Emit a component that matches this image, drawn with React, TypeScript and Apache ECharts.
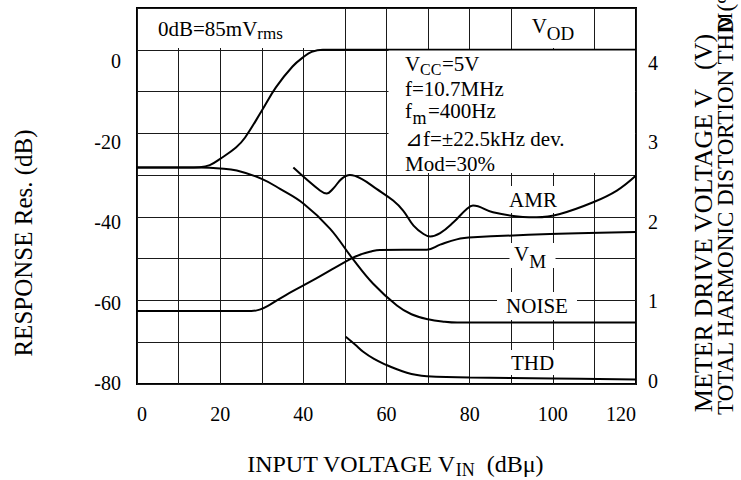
import React, { useEffect, useRef } from "react";
import * as echarts from "echarts";

// ---- data (x: input voltage dBµ) ----
const xTickLabels = [0, 20, 40, 60, 80, 100, 120];
const leftTickLabels = [0, -20, -40, -60, -80];
const rightTickLabels = [0, 1, 2, 3, 4];

// V_OD response (dB)
const vodData = [
  [0, -28.2], [12, -28.2], [15, -28.1], [17.5, -27.6], [20, -26.1], [23.8, -23.4],
  [26, -21], [30, -14.6], [33.4, -9], [37.4, -4], [40.2, -1.6], [42, -0.5], [44.7, 0], [120, 0],
];
// NOISE (dB)
const noiseData = [
  [0, -28.2], [15, -28.2], [20, -28.4], [24, -28.9], [30, -30.9], [34.4, -33.3], [40, -36.8],
  [46.4, -42.8], [51.7, -49.8], [56.8, -56], [62.5, -61.2], [66, -63.3], [70, -64.5], [74, -65.1],
  [77, -65.3], [120, -65.3],
];
// AMR (dB)
const amrData = [
  [37.6, -28.2], [44, -33.7], [45.6, -34.4], [47.2, -33.2], [49.2, -30.9], [51.2, -30], [54, -30.9],
  [57.6, -33.3], [61.6, -36.1], [64, -38.5], [66.5, -42.1], [68.9, -44.1], [70.5, -44.7],
  [72.9, -43.9], [76.1, -41.3], [79.3, -38.1], [80.8, -37.3], [85.6, -38.9], [92.8, -40],
  [96.1, -40.1], [101.7, -39.3], [109.7, -36.5], [115.4, -33.7], [120, -30.1],
];
// V_M meter drive voltage (V)
const vmData = [
  [0, 0.873], [27.5, 0.873], [29.5, 0.89], [31.8, 0.945], [35.8, 1.065], [43, 1.26], [51.6, 1.504],
  [54, 1.555], [56, 1.583], [58.4, 1.605], [69.7, 1.608], [72.9, 1.668], [76.9, 1.731],
  [80.9, 1.755], [99.3, 1.794], [120, 1.818],
];
// THD (%)
const thdData = [
  [50.2, 0.566], [52.5, 0.47], [54.4, 0.386], [57, 0.3], [60, 0.227], [62.5, 0.176], [64.9, 0.135],
  [67, 0.11], [69.7, 0.094], [80, 0.078], [100, 0.066], [120, 0.055],
];

const FONT = "'Liberation Serif', 'Times New Roman', 'DejaVu Serif', serif";

export default function App() {
  const ref = useRef<HTMLDivElement>(null);
  useEffect(() => {
    const chart = echarts.init(ref.current as HTMLDivElement, null, { renderer: "svg" });
    const lineStyle = { color: "#000", width: 2 };
    const mk = (name: string, data: number[][], yAxisIndex: number) => ({
      type: "line",
      name,
      data,
      yAxisIndex,
      smooth: 0.4,
      showSymbol: false,
      symbol: "none",
      lineStyle,
      z: 5,
      silent: true,
    });
    const gridLine = { show: true, lineStyle: { color: "#1a1a1a", width: 1 } };
    const labelFont = { fontFamily: FONT, fontSize: 20, color: "#000" };
    const rect = (x: number, y: number, w: number, h: number) => ({
      type: "rect",
      z: 100,
      shape: { x, y, width: w, height: h },
      style: { fill: "#fff" },
      silent: true,
    });
    const base = { fontFamily: FONT, fontSize: 21, fill: "#000" };
    const txt = (x: number, y: number, text: string, extra: any = {}, rotation = 0) => ({
      type: "text",
      z: 101,
      x,
      y,
      rotation,
      silent: true,
      style: { ...base, text, align: "left", verticalAlign: "middle", ...extra },
    });
    const subRich = (lh: number, fs: number) => ({
      b: { fontFamily: FONT, fontSize: 21, lineHeight: lh, fill: "#000" },
      s: { fontFamily: FONT, fontSize: fs, lineHeight: lh, verticalAlign: "bottom", fill: "#000" },
    });
    const R = Math.PI / 2;

    chart.setOption({
      animation: false,
      backgroundColor: "#fff",
      grid: {
        left: 137, top: 8, width: 499, height: 376,
        show: true, borderColor: "#000", borderWidth: 2,
        containLabel: false, outerBoundsMode: "none",
      },
      xAxis: {
        type: "value", min: 0, max: 120, interval: 10,
        axisLine: { show: false }, axisTick: { show: false },
        splitLine: gridLine,
        axisLabel: {
          ...labelFont, margin: 20,
          formatter: (v: number) => (xTickLabels.indexOf(v) >= 0 ? String(v) : ""),
          alignMinLabel: "left", alignMaxLabel: "right",
        },
      },
      yAxis: [
        {
          type: "value", min: -80, max: 10, interval: 10, position: "left",
          axisLine: { show: false }, axisTick: { show: false }, axisLabel: { show: false },
          splitLine: gridLine,
        },
        {
          type: "value", min: 0, max: 4.5, interval: 0.5, position: "right",
          axisLine: { show: false }, axisTick: { show: false }, axisLabel: { show: false },
          splitLine: { show: false },
        },
        {
          type: "value", min: -80.25, max: 13.28, position: "left",
          axisLine: { show: false }, axisTick: { show: false }, splitLine: { show: false },
          axisLabel: { ...labelFont, margin: 16, customValues: leftTickLabels },
        },
        {
          type: "value", min: -0.043, max: 4.687, position: "right",
          axisLine: { show: false }, axisTick: { show: false }, splitLine: { show: false },
          axisLabel: { ...labelFont, margin: 12, customValues: rightTickLabels },
        },
      ],
      series: [
        mk("V_OD", vodData, 0),
        mk("NOISE", noiseData, 0),
        mk("AMR", amrData, 0),
        mk("V_M", vmData, 1),
        mk("THD", thdData, 1),
      ],
      graphic: [
        rect(138.5, 9, 205.5, 39),
        rect(513, 9, 81, 39),
        rect(388.5, 50.5, 246.5, 122.5),
        rect(505, 186, 55, 27),
        rect(509.5, 243, 46, 25),
        rect(497, 292, 80, 28),
        rect(508, 350, 49, 25),
        txt(158, 29, "{b|0dB=85mV}{s|rms}", { rich: subRich(26, 17) }),
        txt(553, 26, "{b|V}{s|OD}", { align: "center", rich: subRich(33, 19) }),
        // conditions
        txt(405, 64, "V"),
        txt(420, 69.5, "CC", { fontSize: 16 }),
        txt(442, 64, "=5V"),
        txt(405, 89, "f=10.7MHz"),
        txt(405, 111, "f"),
        txt(412.5, 117.5, "m", { fontSize: 18 }),
        txt(428, 111, "=400Hz"),
        txt(405, 138.5, "⊿f=±22.5kHz dev."),
        txt(405, 164, "Mod=30%"),
        // curve labels
        txt(533, 200, "AMR", { align: "center" }),
        txt(530, 254, "{b|V}{s|M}", { align: "center", rich: subRich(33, 19) }),
        txt(537, 306, "NOISE", { align: "center" }),
        txt(532.5, 363, "THD", { align: "center" }),
        // axis titles
        txt(23, 243, "RESPONSE Res. (dB)", { align: "center", fontSize: 25 }, R),
        txt(395, 464, "{t|INPUT VOLTAGE V}{u|IN}{t|  (dBμ)}", {
          align: "center",
          rich: {
            t: { fontFamily: FONT, fontSize: 24, lineHeight: 30, fill: "#000" },
            u: { fontFamily: FONT, fontSize: 18, lineHeight: 30, verticalAlign: "bottom", fill: "#000" },
          },
        }),
        txt(703, 223, "METER DRIVE VOLTAGE V   (V)", { align: "center", fontSize: 26 }, R),
        txt(725, 22, "M", { align: "center", fontSize: 21 }, R),
        txt(725, 415, "TOTAL HARMONIC DISTORTION THD (%)", { align: "left", fontSize: 23 }, R),
      ],
    });
    return () => chart.dispose();
  }, []);
  return (
    <div
      ref={ref}
      style={{ position: "fixed", left: 0, top: 0, width: 741, height: 480, background: "#fff" }}
    />
  );
}
